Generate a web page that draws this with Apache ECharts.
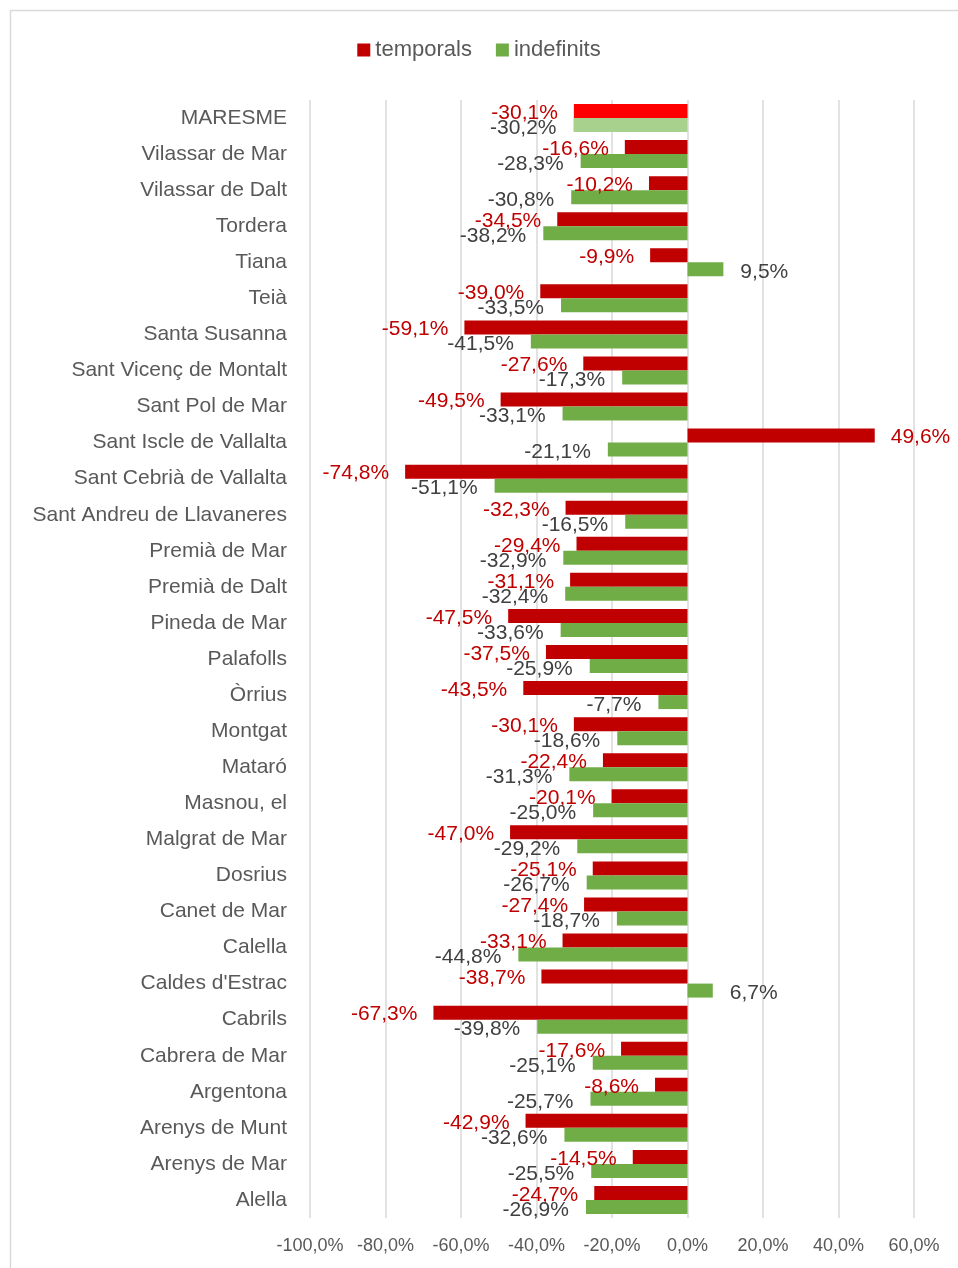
<!DOCTYPE html>
<html>
<head>
<meta charset="utf-8">
<script src="https://cdn.jsdelivr.net/npm/echarts@6/dist/echarts.min.js"></script>
<style>
  html, body { margin: 0; padding: 0; background: #fff; }
  #chart { width: 958px; height: 1268px; }
</style>
</head>
<body>
<div id="chart"></div>
<script>
'use strict';

var municipis = ['MARESME', 'Vilassar de Mar', 'Vilassar de Dalt', 'Tordera', 'Tiana', 'Teià',
  'Santa Susanna', 'Sant Vicenç de Montalt', 'Sant Pol de Mar', 'Sant Iscle de Vallalta',
  'Sant Cebrià de Vallalta', 'Sant Andreu de Llavaneres', 'Premià de Mar', 'Premià de Dalt',
  'Pineda de Mar', 'Palafolls', 'Òrrius', 'Montgat', 'Mataró', 'Masnou, el', 'Malgrat de Mar',
  'Dosrius', 'Canet de Mar', 'Calella', "Caldes d'Estrac", 'Cabrils', 'Cabrera de Mar',
  'Argentona', 'Arenys de Munt', 'Arenys de Mar', 'Alella'];

var temporals = [-30.1, -16.6, -10.2, -34.5, -9.9, -39.0, -59.1, -27.6, -49.5, 49.6,
  -74.8, -32.3, -29.4, -31.1, -47.5, -37.5, -43.5, -30.1, -22.4, -20.1, -47.0,
  -25.1, -27.4, -33.1, -38.7, -67.3, -17.6, -8.6, -42.9, -14.5, -24.7];

var indefinits = [-30.2, -28.3, -30.8, -38.2, 9.5, -33.5, -41.5, -17.3, -33.1, -21.1,
  -51.1, -16.5, -32.9, -32.4, -33.6, -25.9, -7.7, -18.6, -31.3, -25.0, -29.2,
  -26.7, -18.7, -44.8, 6.7, -39.8, -25.1, -25.7, -32.6, -25.5, -26.9];

var xTicks = [-100, -80, -60, -40, -20, 0, 20, 40, 60];

var FONT = '"Liberation Sans", Arial, sans-serif';

function pct(v) {
  return v.toFixed(1).replace('.', ',') + '%';
}

// first row (MARESME) gets the lighter total colours
function buildData(values, totalColor) {
  return values.map(function (v, i) {
    var item = {
      value: v,
      label: {position: v < 0 ? 'left' : 'right'}
    };
    if (i === 0) {
      item.itemStyle = {color: totalColor};
    }
    return item;
  });
}

var chart = echarts.init(document.getElementById('chart'), null, {renderer: 'canvas'});

var option = {
  animation: false,
  backgroundColor: '#ffffff',
  textStyle: {fontFamily: FONT},
  graphic: [{
    type: 'rect',
    shape: {x: 10.5, y: 10.5, width: 1000, height: 1300},
    style: {fill: 'none', stroke: '#d9d9d9', lineWidth: 1.5},
    silent: true
  }],
  legend: {
    top: 34,
    left: 'center',
    itemWidth: 13,
    itemHeight: 13,
    itemGap: 24,
    icon: 'rect',
    textStyle: {fontFamily: FONT, fontSize: 22, color: '#595959'},
    data: ['temporals', 'indefinits']
  },
  grid: {left: 310, right: 44, top: 100, bottom: 50, containLabel: false},
  xAxis: {
    type: 'value',
    min: xTicks[0],
    max: xTicks[xTicks.length - 1],
    interval: 20,
    axisLine: {show: false},
    axisTick: {show: false},
    splitLine: {show: true, lineStyle: {color: '#d9d9d9', width: 1.5}},
    axisLabel: {
      fontFamily: FONT,
      fontSize: 18,
      color: '#595959',
      margin: 19,
      formatter: function (v) { return pct(v); }
    }
  },
  yAxis: {
    type: 'category',
    inverse: true,
    data: municipis,
    axisLine: {show: false, onZero: false},
    axisTick: {show: false},
    axisLabel: {fontFamily: FONT, fontSize: 21, color: '#595959', margin: 23, padding: [3, 0, 0, 0]}
  },
  series: [{
    name: 'temporals',
    type: 'bar',
    barWidth: 14,
    barGap: '0%',
    itemStyle: {color: '#c00000'},
    label: {
      show: true,
      distance: 16,
      offset: [0, 2],
      fontFamily: FONT,
      fontSize: 21,
      color: '#c00000',
      formatter: function (p) { return pct(p.value); }
    },
    data: buildData(temporals, '#ff0000')
  }, {
    name: 'indefinits',
    type: 'bar',
    barWidth: 14,
    barGap: '0%',
    itemStyle: {color: '#70ad47'},
    label: {
      show: true,
      distance: 17,
      offset: [0, 3],
      fontFamily: FONT,
      fontSize: 21,
      color: '#404040',
      formatter: function (p) { return pct(p.value); }
    },
    data: buildData(indefinits, '#a9d18e')
  }]
};

chart.setOption(option);
</script>
</body>
</html>
